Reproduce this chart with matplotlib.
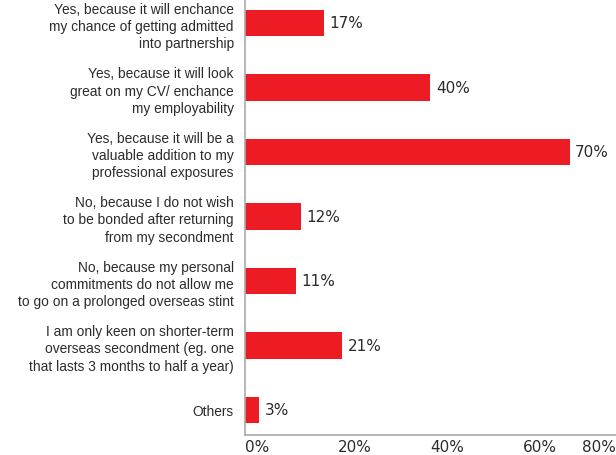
import matplotlib.pyplot as plt

plt.rcParams['font.family'] = ['Liberation Sans', 'DejaVu Sans']

categories = [
    'Yes, because it will enchance\nmy chance of getting admitted\ninto partnership',
    'Yes, because it will look\ngreat on my CV/ enchance\nmy employability',
    'Yes, because it will be a\nvaluable addition to my\nprofessional exposures',
    'No, because I do not wish\nto be bonded after returning\nfrom my secondment',
    'No, because my personal\ncommitments do not allow me\nto go on a prolonged overseas stint',
    'I am only keen on shorter-term\noverseas secondment (eg. one\nthat lasts 3 months to half a year)',
    'Others',
]
values = [17, 40, 70, 12, 11, 21, 3]
ticks = [0, 20, 40, 60, 80]
tick_labels = ['0%', '20%', '40%', '60%', '80%']

red = '#ED1C24'
text_col = '#2B2B2B'
num_font = 'DejaVu Sans'

fig = plt.figure(figsize=(6.16, 4.56), dpi=100)
ax = fig.add_axes([0.3977, 0.0439, 0.6023, 0.9561])

y = list(range(len(categories)))
ax.barh(y, values, height=0.41, color=red)
for yi, v in zip(y, values):
    ax.text(v + 1.2, yi, f'{v}%', va='center', ha='left', fontsize=11,
            color=text_col, family=num_font)

ax.set_ylim(6.39, -0.37)
ax.set_xlim(0, 80)
ax.set_yticks(y)
ax.set_yticklabels(categories, fontsize=9.9, color=text_col, linespacing=1.3)
ax.set_xticks(ticks)
ax.set_xticklabels(tick_labels, fontsize=11, color=text_col, family=num_font)
for i, lab in enumerate(ax.get_xticklabels()):
    lab.set_ha('right' if i == len(ticks) - 1 else 'left')

ax.tick_params(axis='y', length=0, pad=8)
ax.tick_params(axis='x', length=0, pad=3)
for s in ['top', 'right']:
    ax.spines[s].set_visible(False)
for s in ['left', 'bottom']:
    ax.spines[s].set_color('#AAAAAA')
    ax.spines[s].set_linewidth(1.2)

fig.savefig('out.png', dpi=100)
